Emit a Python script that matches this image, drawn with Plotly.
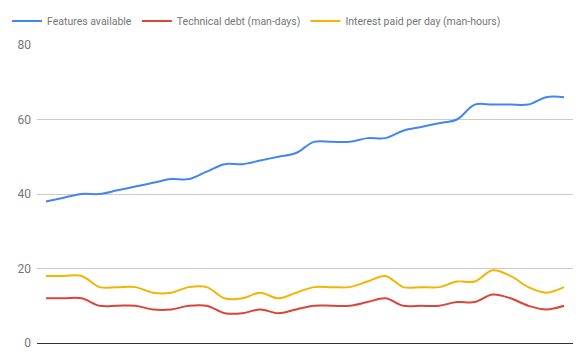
import plotly.graph_objects as go

x_index = list(range(30))
features = [38, 39, 40, 40, 41, 42, 43, 44, 44, 46, 48, 48, 49, 50, 51,
            54, 54, 54, 55, 55, 57, 58, 59, 60, 64, 64, 64, 64, 66, 66]
tech_debt = [12, 12, 12, 10, 10, 10, 9, 9, 10, 10, 8, 8, 9, 8, 9,
             10, 10, 10, 11, 12, 10, 10, 10, 11, 11, 13, 12, 10, 9, 10]
interest = [18, 18, 18, 15, 15, 15, 13.5, 13.5, 15, 15, 12, 12, 13.5, 12, 13.5,
            15, 15, 15, 16.5, 18, 15, 15, 15, 16.5, 16.5, 19.5, 18, 15, 13.5, 15]
y_ticks = [0, 20, 40, 60, 80]

series = [
    ("Features available", features, "#4285F4"),
    ("Technical debt (man-days)", tech_debt, "#DB4437"),
    ("Interest paid per day (man-hours)", interest, "#F4B400"),
]

fig = go.Figure()
for name, vals, color in series:
    fig.add_trace(go.Scatter(
        x=x_index, y=vals, name=name, mode="lines",
        line=dict(color=color, width=2, shape="spline", smoothing=1.0),
    ))

fig.update_layout(
    width=585, height=364,
    margin=dict(l=37, r=12, t=45, b=21, autoexpand=False),
    paper_bgcolor="white", plot_bgcolor="white",
    font=dict(family="Roboto, Arial, sans-serif", size=12, color="#757575"),
    showlegend=True,
    legend=dict(orientation="h", x=-0.056, xanchor="left",
                y=1 + 24 / 298, yanchor="middle",
                font=dict(size=10.5, color="#757575"),
                itemwidth=30, traceorder="normal", bgcolor="rgba(0,0,0,0)"),
    xaxis=dict(range=[-0.5, 29.5], showgrid=False, showticklabels=False,
               zeroline=False, showline=True, linecolor="#333333", linewidth=1,
               ticks="", automargin=False),
    yaxis=dict(range=[0, 80], tickvals=y_ticks, showgrid=True, gridcolor="#cccccc",
               gridwidth=1, zeroline=False, showline=False, ticks="",
               ticklabelstandoff=5, automargin=False,
               tickfont=dict(size=12, color="#757575")),
)

fig.write_html("out.html", config={"displayModeBar": False},
               post_script="document.body.style.margin='0';")
